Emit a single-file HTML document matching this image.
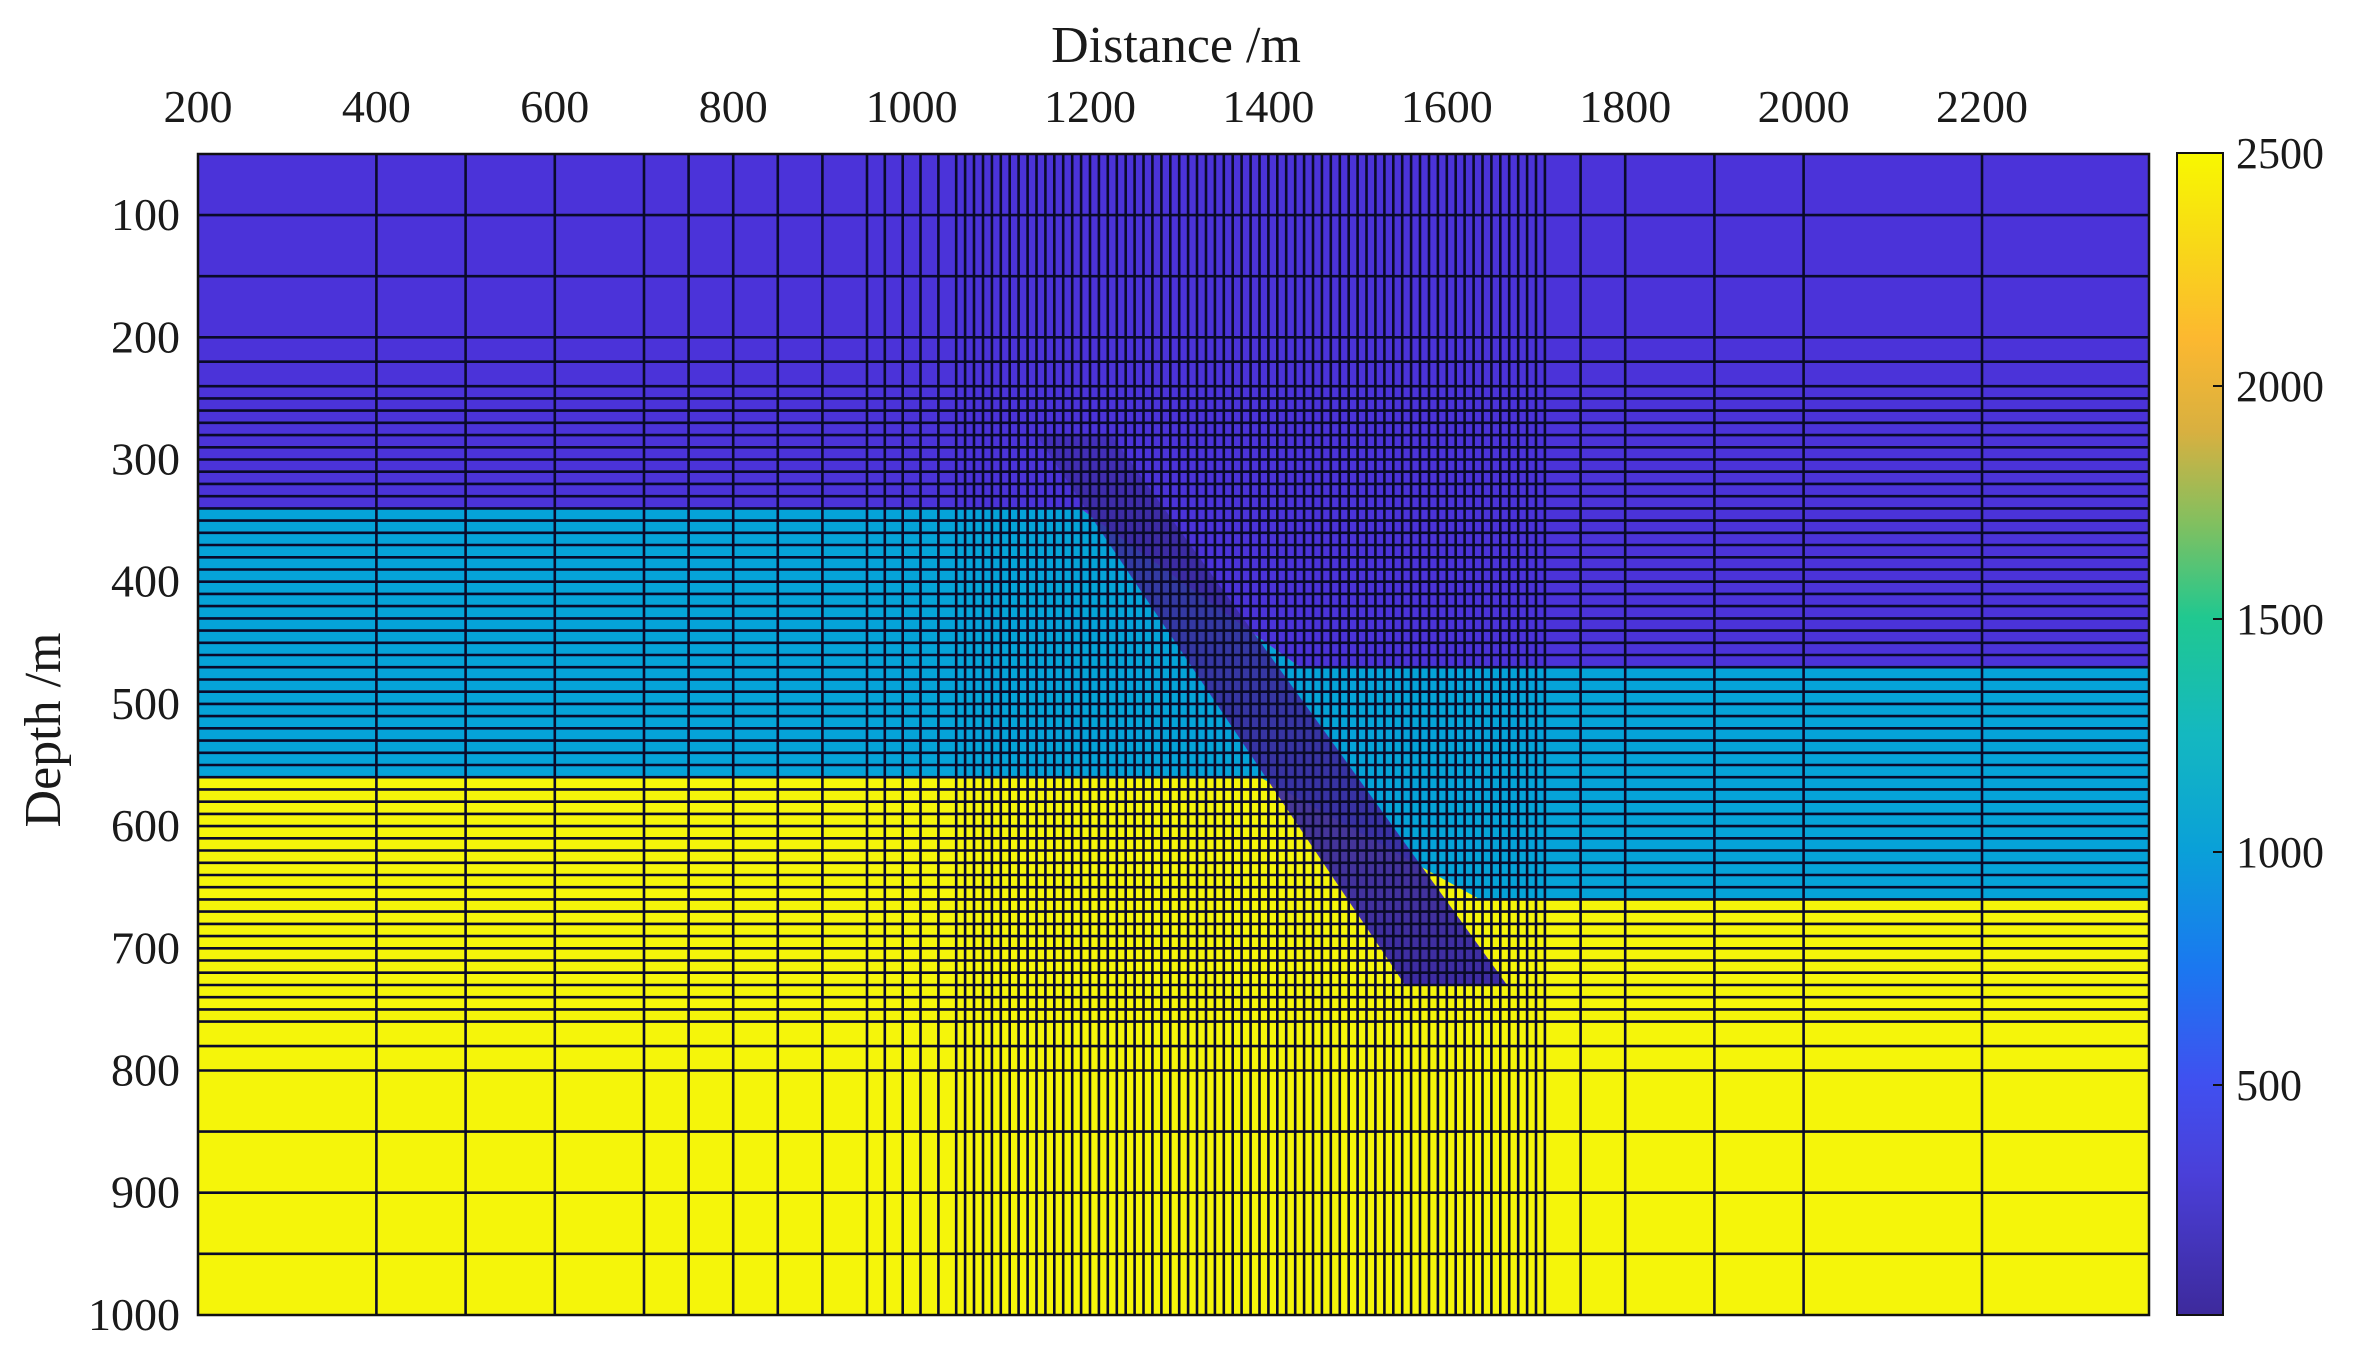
<!DOCTYPE html>
<html><head><meta charset="utf-8">
<style>
html,body{margin:0;padding:0;background:#fff;}
svg{display:block;}
text{font-family:"Liberation Serif",serif;fill:#1a1a1a;}
</style></head>
<body>
<svg id="s" width="2357" height="1364" viewBox="0 0 2357 1364" xmlns="http://www.w3.org/2000/svg">
<defs>
<linearGradient id="cb" x1="0" y1="1" x2="0" y2="0">
<stop offset="0" stop-color="#3d2a9c"/>
<stop offset="0.12" stop-color="#4a3fd8"/>
<stop offset="0.2" stop-color="#4050f0"/>
<stop offset="0.3" stop-color="#1a78f0"/>
<stop offset="0.4" stop-color="#0aa0d8"/>
<stop offset="0.5" stop-color="#14b8c0"/>
<stop offset="0.6" stop-color="#20c890"/>
<stop offset="0.68" stop-color="#80c060"/>
<stop offset="0.76" stop-color="#d8b040"/>
<stop offset="0.84" stop-color="#fcb830"/>
<stop offset="0.92" stop-color="#f8d818"/>
<stop offset="1" stop-color="#f8f800"/>
</linearGradient>
<linearGradient id="fg" x1="0" y1="436" x2="0" y2="985" gradientUnits="userSpaceOnUse">
<stop offset="0" stop-color="#3a2a9a" stop-opacity="0.45"/>
<stop offset="0.15" stop-color="#3a2a9a" stop-opacity="0.85"/>
<stop offset="1" stop-color="#3d2ca4" stop-opacity="1"/>
</linearGradient>
</defs>
<g id="plot"></g>
<rect x="2177" y="153" width="46" height="1162" fill="url(#cb)" stroke="#111" stroke-width="2"/>
<g font-size="44">
<text x="2236" y="168">2500</text>
<text x="2236" y="401">2000</text>
<text x="2236" y="634">1500</text>
<text x="2236" y="867">1000</text>
<text x="2236" y="1100">500</text>
</g>
<g stroke="#111" stroke-width="2">
<line x1="2213" y1="386" x2="2223" y2="386"/>
<line x1="2213" y1="619" x2="2223" y2="619"/>
<line x1="2213" y1="852" x2="2223" y2="852"/>
<line x1="2213" y1="1085" x2="2223" y2="1085"/>
</g>
<text x="1176" y="62" font-size="52" text-anchor="middle">Distance /m</text>
<text transform="translate(60,730) rotate(-90)" font-size="52" text-anchor="middle">Depth /m</text>
</svg>
<script>
(function(){
var X=function(d){return 198+(d-200)*0.892;};
var Y=function(d){return 154+(d-50)*1.222;};
var L=198,R=2149,T=154,B=1315;
var h='';
var P='#4b33d9',C='#05a3d8',Yl='#f5f50a';
h+='<rect x="'+L+'" y="'+T+'" width="'+(R-L)+'" height="'+(B-T)+'" fill="'+Yl+'"/>';
h+='<polygon points="'+L+','+T+' '+R+','+T+' '+R+','+Y(470)+' 1300,'+Y(470)+' 1080,'+Y(340)+' '+L+','+Y(340)+'" fill="'+P+'"/>';
h+='<polygon points="'+L+','+Y(340)+' 1080,'+Y(340)+' 1300,'+Y(470)+' '+R+','+Y(470)+' '+R+','+Y(660)+' 1480,'+Y(660)+' 1260,'+Y(560)+' '+L+','+Y(560)+'" fill="'+C+'"/>';
h+='<polygon points="1037,436 1112,436 1507,985 1405,985" fill="url(#fg)"/>';
var g='';
var vx=[400,500,600,700,750,800,850,900,950,970,990,1010,1030,1050];
for(var d=1060;d<=1710;d+=10)vx.push(d);
vx=vx.concat([1750,1800,1900,2000,2200]);
vx.forEach(function(d){var x=X(d).toFixed(1);g+='<line x1="'+x+'" y1="'+T+'" x2="'+x+'" y2="'+B+'"/>';});
var hy=[100,150,200,220];
for(var d=240;d<=760;d+=10)hy.push(d);
hy=hy.concat([780,800,850,900,950]);
hy.forEach(function(d){var y=Y(d).toFixed(1);g+='<line x1="'+L+'" y1="'+y+'" x2="'+R+'" y2="'+y+'"/>';});
h+='<g stroke="#0a0a2a" stroke-width="2.6">'+g+'</g>';
h+='<rect x="'+L+'" y="'+T+'" width="'+(R-L)+'" height="'+(B-T)+'" fill="none" stroke="#111" stroke-width="2.5"/>';
var t='<g font-size="46">';
for(var d=200;d<=2200;d+=200){t+='<text x="'+X(d)+'" y="122" text-anchor="middle">'+d+'</text>';}
for(var d=100;d<=1000;d+=100){t+='<text x="180" y="'+(Y(d)+15)+'" text-anchor="end">'+d+'</text>';}
t+='</g>';
h+=t;
document.getElementById('plot').innerHTML=h;
})();
</script>
</body></html>
